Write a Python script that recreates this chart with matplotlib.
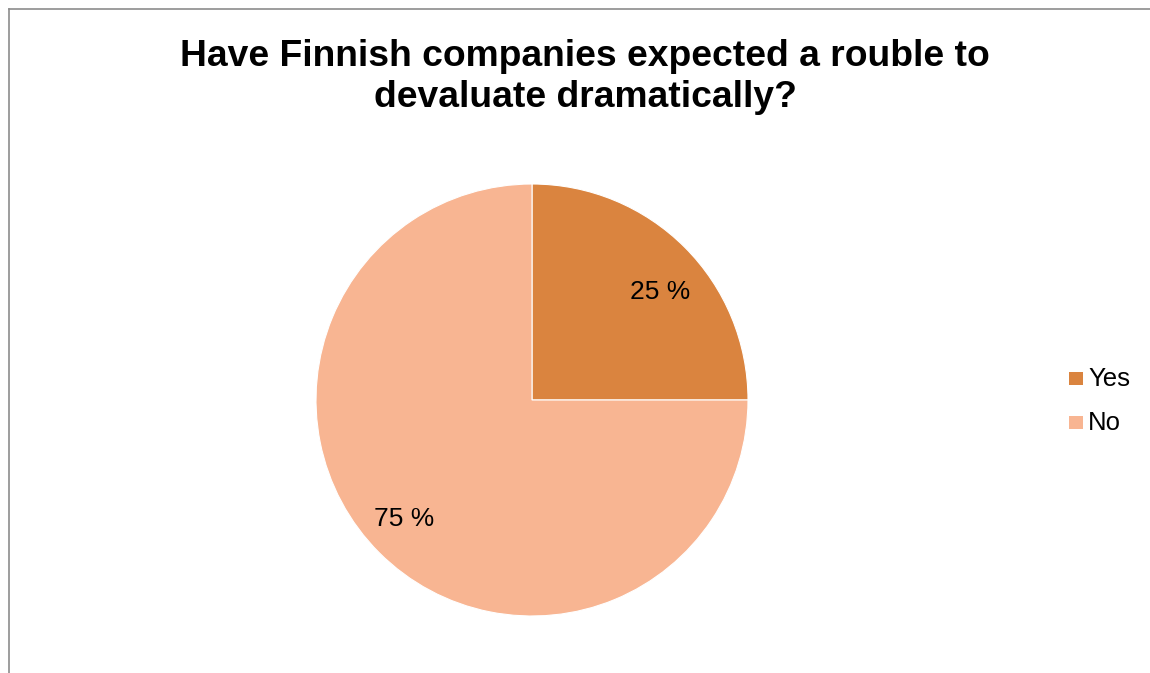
import matplotlib
matplotlib.use("Agg")
import matplotlib.pyplot as plt
from matplotlib.patches import Rectangle
import numpy as np

plt.rcParams['font.family'] = ['Liberation Sans', 'DejaVu Sans']

categories = ["Yes", "No"]
shares = [25, 75]
colors = ["#DA843F", "#F8B592"]
title = "Have Finnish companies expected a rouble to\ndevaluate dramatically?"

W, H = 1150, 673
fig = plt.figure(figsize=(W / 100, H / 100), dpi=100)
fig.patch.set_facecolor("white")

# chart-area frame (open on right and bottom edges)
fig.add_artist(plt.Line2D([8.5 / W, 8.5 / W], [0, 1 - 9 / H], color="#8C8C8C", lw=1.2))
fig.add_artist(plt.Line2D([8.5 / W, 1], [1 - 9 / H, 1 - 9 / H], color="#8C8C8C", lw=1.2))

# pie axes: centre (532, 400), radius 216 px
cx, cy, r = 532, 400, 216
ax = fig.add_axes([(cx - r) / W, 1 - (cy + r) / H, 2 * r / W, 2 * r / H])
wedges, _ = ax.pie(shares, colors=colors, startangle=90, counterclock=False,
                   radius=1.0, wedgeprops=dict(edgecolor="white", linewidth=0.8))
ax.set_xlim(-1, 1)
ax.set_ylim(-1, 1)
ax.set_aspect("equal")
ax.axis("off")

# percentage labels inside each wedge
start = 90.0
total = sum(shares)
for val in shares:
    sweep = 360.0 * val / total
    mid = np.deg2rad(start - sweep / 2 - 3.5)
    ax.annotate(f"{val} %", xy=(0.79 * np.cos(mid), 0.79 * np.sin(mid)),
                xytext=(0, -4), textcoords="offset points",
                ha="center", va="center", fontsize=19, color="black")
    start -= sweep

fig.text(585 / W, 1 - 77 / H, title, ha="center", va="center",
         fontsize=26.8, fontweight="bold", linespacing=1.22)

# legend
for i, (name, col) in enumerate(zip(categories, colors)):
    y = 379 + i * 44
    fig.add_artist(Rectangle((1069 / W, 1 - (y + 6) / H), 14 / W, 13 / H,
                             transform=fig.transFigure, facecolor=col, edgecolor="none"))
    fig.text(1088 / W, 1 - y / H, name, ha="left", va="center", fontsize=18.5)

fig.savefig("out.png", dpi=100)
